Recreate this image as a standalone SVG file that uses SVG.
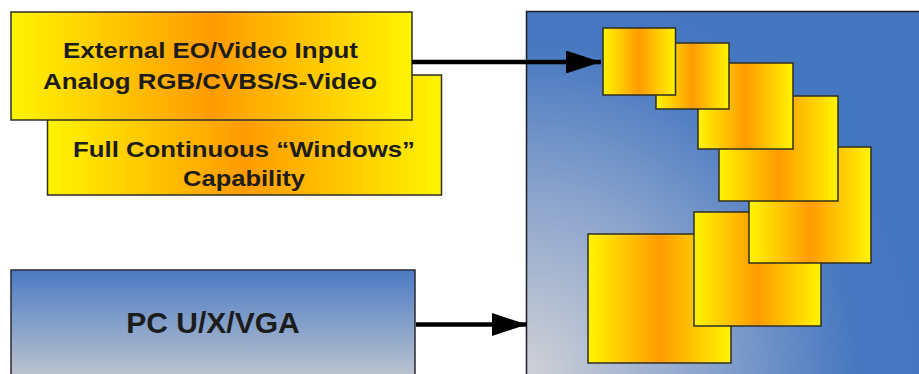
<svg xmlns="http://www.w3.org/2000/svg" width="919" height="374" viewBox="0 0 919 374">
  <defs>
    <linearGradient id="gold" x1="0" y1="0" x2="1" y2="0">
      <stop offset="0" stop-color="#FFF400"/>
      <stop offset="0.5" stop-color="#FF9B00"/>
      <stop offset="1" stop-color="#FFF400"/>
    </linearGradient>
    <linearGradient id="pcfill" x1="0" y1="0" x2="0" y2="1">
      <stop offset="0" stop-color="#4A7BC3"/>
      <stop offset="1" stop-color="#C6C9D0"/>
    </linearGradient>
    <radialGradient id="panelfill" gradientUnits="userSpaceOnUse" cx="526" cy="374" r="390">
      <stop offset="0" stop-color="#D0D1D6"/>
      <stop offset="0.45" stop-color="#8CA5CD"/>
      <stop offset="0.85" stop-color="#4677C0"/>
      <stop offset="1" stop-color="#4576C0"/>
    </radialGradient>
    <marker id="arrow" markerUnits="userSpaceOnUse" markerWidth="36" markerHeight="24" refX="35" refY="11.5" orient="auto">
      <path d="M0,0 L35,11.5 L0,23 z" fill="#000"/>
    </marker>
  </defs>
  <style>
    .gold { fill: url(#gold); stroke: #2e2e22; stroke-width: 1.5; }
    .lbl { font-family: "Liberation Sans", Arial, sans-serif; font-weight: bold; fill: #1c1c1c; text-anchor: middle; }
    .conn { stroke: #000; stroke-width: 4.5; fill: none; marker-end: url(#arrow); }
  </style>

  <g id="panel">
    <rect x="526.5" y="11.5" width="400" height="370" fill="url(#panelfill)" stroke="#1e1e28" stroke-width="1.5"/>
    <rect x="588" y="234" width="143" height="129" class="gold"/>
    <rect x="694" y="212" width="127" height="114" class="gold"/>
    <rect x="749" y="147" width="122" height="116" class="gold"/>
    <rect x="719" y="96" width="119" height="105" class="gold"/>
    <rect x="698" y="63" width="95" height="86" class="gold"/>
    <rect x="656" y="43" width="73" height="66" class="gold"/>
    <rect x="603" y="28" width="72.5" height="67" class="gold"/>
  </g>

  <g id="windows-box">
    <rect x="47.5" y="75" width="394" height="120" class="gold"/>
    <text class="lbl" x="244" y="157" font-size="22" textLength="342" lengthAdjust="spacingAndGlyphs">Full Continuous “Windows”</text>
    <text class="lbl" x="244" y="186" font-size="22" textLength="122" lengthAdjust="spacingAndGlyphs">Capability</text>
  </g>

  <g id="video-input">
    <rect x="11" y="12" width="401" height="108" class="gold"/>
    <text class="lbl" x="210.5" y="57.5" font-size="22" textLength="295" lengthAdjust="spacingAndGlyphs">External EO/Video Input</text>
    <text class="lbl" x="210" y="89" font-size="22" textLength="334" lengthAdjust="spacingAndGlyphs">Analog RGB/CVBS/S-Video</text>
  </g>

  <g id="pc-vga">
    <rect x="11" y="270" width="404" height="115" fill="url(#pcfill)" stroke="#2a2a30" stroke-width="1.5"/>
    <text class="lbl" x="213" y="333" font-size="30">PC U/X/VGA</text>
  </g>

  <g id="connectors">
    <line x1="412" y1="62" x2="601" y2="62" class="conn"/>
    <line x1="416" y1="324.5" x2="527" y2="324.5" class="conn"/>
  </g>
</svg>
